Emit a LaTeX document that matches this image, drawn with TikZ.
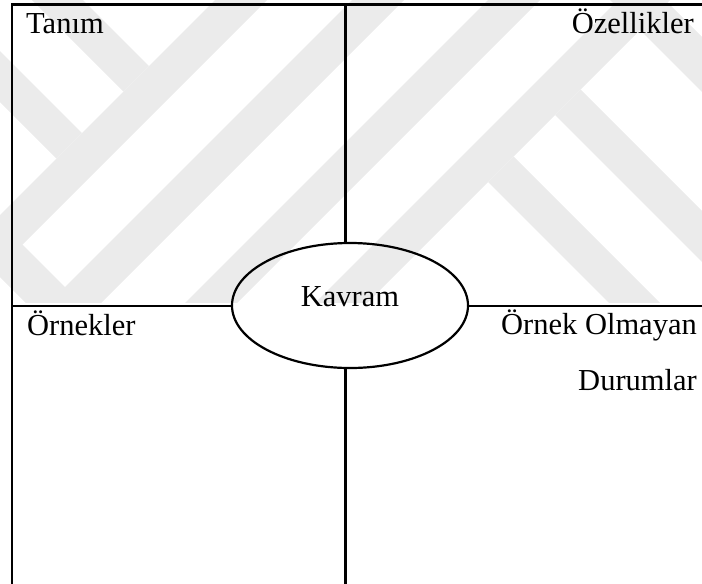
\documentclass[tikz,border=0pt]{standalone}
\usepackage{fontspec}
\setmainfont{Liberation Serif}
\usetikzlibrary{shapes.geometric}
\definecolor{wm}{HTML}{EBEBEB}
\tikzset{
  frame/.style={line width=2.2pt, line cap=rect},
  concept/.style={ellipse, draw, line width=2.2pt, minimum width=236pt, minimum height=125pt, inner sep=0pt},
  label/.style={inner sep=0pt, font=\fontsize{30.5}{36}\selectfont},
  band/.style={fill=wm, draw=none}
}
\begin{document}
\begin{tikzpicture}[x=1pt, y=-1pt]
\useasboundingbox (0,0) rectangle (702,584);

% faint diagonal background bands
\begin{scope}
  \clip (0,0) rectangle (702,302);
  % "/" bands
  \fill[band] (215,0) -- (267,0) -- (-133,400) -- (-185,400) -- cycle;
  \fill[band] (352,0) -- (404,0) -- (4,400) -- (-48,400) -- cycle;
  \fill[band] (488,0) -- (540,0) -- (140,400) -- (88,400) -- cycle;
  \fill[band] (618,0) -- (670,0) -- (270,400) -- (218,400) -- cycle;
  % "\" bands ending on the first "/" band
  \fill[band] (-268,-300) -- (-217,-300) -- (149,66) -- (123.5,91.5) -- cycle;
  \fill[band] (-402,-300) -- (-351,-300) -- (82,133) -- (56.5,158.5) -- cycle;
  % "\" bands starting at the last "/" band
  \fill[band] (488,182) -- (513.5,156.5) -- (913.5,556.5) -- (888,582) -- cycle;
  \fill[band] (555,115) -- (580.5,89.5) -- (980.5,489.5) -- (955,515) -- cycle;
  % long "\" bands
  \fill[band] (610,0) -- (665,0) -- (1065,400) -- (1010,400) -- cycle;
  \fill[band] (0,222) -- (0,277) -- (400,677) -- (400,622) -- cycle;
\end{scope}

% central concept
\node[concept] (kav) at (350,305.5) {};
\node[label, anchor=base] (kavt) at (350,306) {Kavram};

% frame corners
\coordinate (tl) at (12,4.5);
\coordinate (tr) at (712,4.5);
\coordinate (bl) at (12,594);
\coordinate (mt) at (345.5,4.5);
\coordinate (mb) at (345.5,594);
\coordinate (ml) at (12,306);
\coordinate (mr) at (712,306);

\draw[frame] (tr) -- (tl) -- (bl);
\draw[frame] (mt) -- (mt |- kav.north);
\draw[frame] (mb) -- (mb |- kav.south);
\draw[frame] (ml) -- (ml -| kav.west);
\draw[frame] (mr) -- (mr -| kav.east);

% quadrant labels
\node[label, anchor=base west] (tanim) at (26,33.5) {Tanım};
\node[label, anchor=base east] (ozel) at (694,33.5) {Özellikler};
\node[label, anchor=base west] (ornek) at (27,335) {Örnekler};
\node[label, anchor=base east] (olmayan) at (697,334.5) {Örnek Olmayan};
\node[label, anchor=base east] (durum) at (697,390) {Durumlar};
\end{tikzpicture}
\end{document}
